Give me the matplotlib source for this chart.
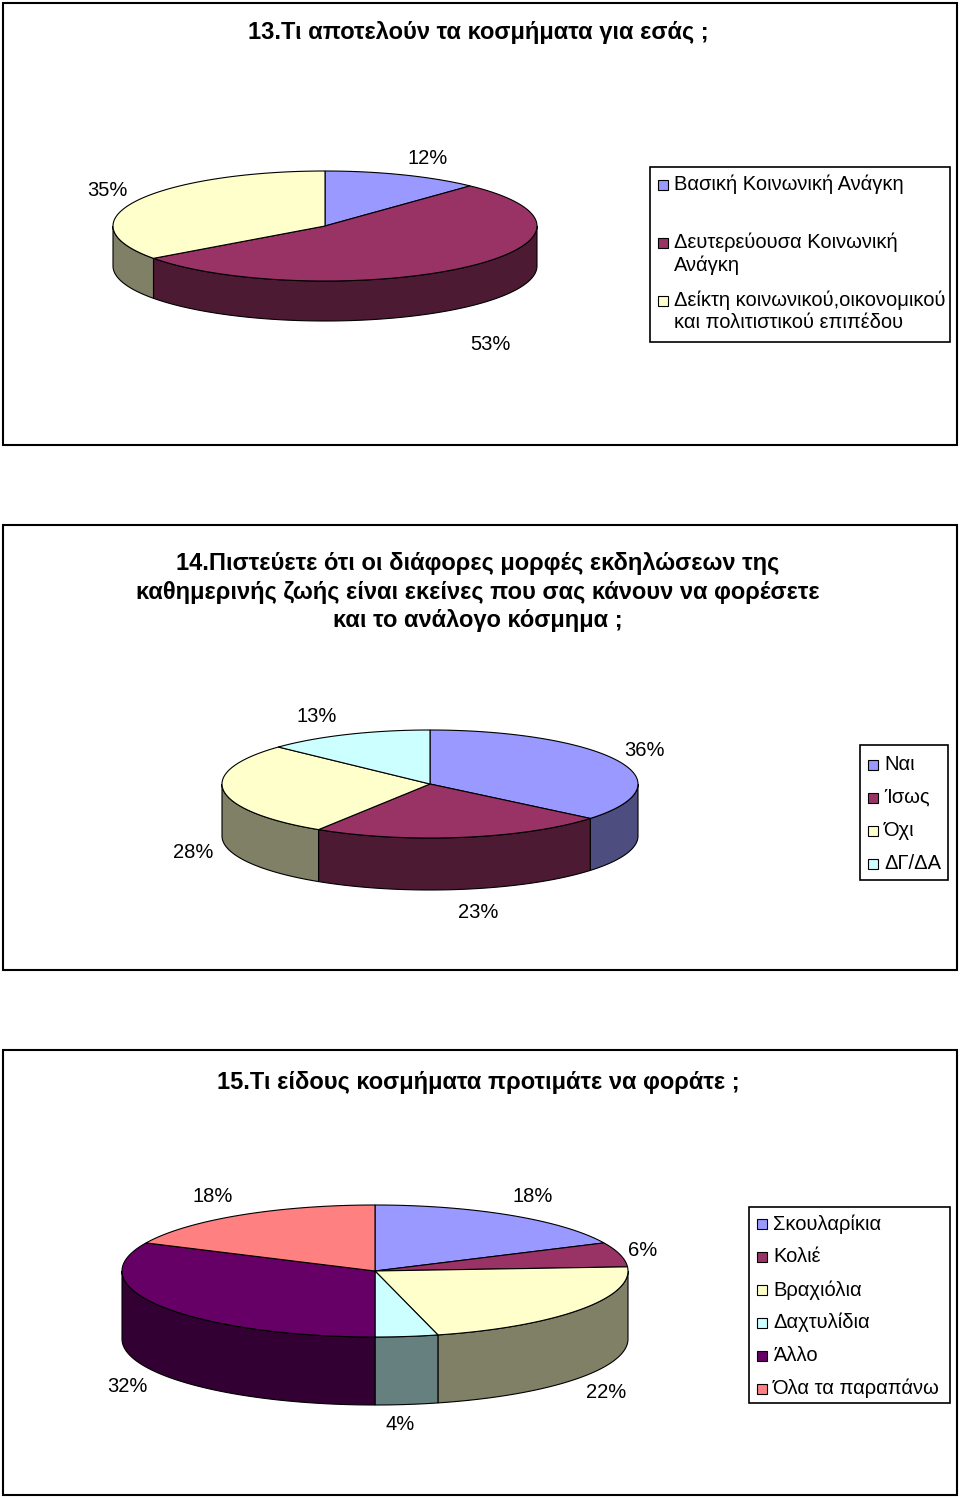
import numpy as np
import matplotlib
matplotlib.use("Agg")
import matplotlib.pyplot as plt
from matplotlib.patches import Polygon, Rectangle
from matplotlib.colors import to_rgb

plt.rcParams["font.family"] = "Liberation Sans"

# Chart 13
q13_labels = ["Βασική Κοινωνική Ανάγκη", "Δευτερεύουσα Κοινωνική\nΑνάγκη",
              "Δείκτη κοινωνικού,οικονομικού\nκαι πολιτιστικού επιπέδου"]
q13_values = [12, 53, 35]
q13_colors = ["#9999FF", "#993366", "#FFFFCC"]

# Chart 14
q14_labels = ["Ναι", "Ίσως", "Όχι", "ΔΓ/ΔΑ"]
q14_values = [36, 23, 28, 13]
q14_colors = ["#9999FF", "#993366", "#FFFFCC", "#CCFFFF"]

# Chart 15
q15_labels = ["Σκουλαρίκια", "Κολιέ", "Βραχιόλια", "Δαχτυλίδια", "Άλλο", "Όλα τα παραπάνω"]
q15_values = [18, 6, 22, 4, 32, 18]
q15_colors = ["#9999FF", "#993366", "#FFFFCC", "#CCFFFF", "#660066", "#FF8080"]

LBL = 14.5
TTL = 17

fig = plt.figure(figsize=(9.6, 14.98), dpi=100)
ax = fig.add_axes([0, 0, 1, 1])
ax.set_xlim(0, 960)
ax.set_ylim(1498, 0)
ax.axis("off")


def pt(cx, cy, rx, ry, th):
    return cx + rx * np.sin(th), cy - ry * np.cos(th)


def pie3d(values, colors, cx, cy, rx, ry, depth):
    fr = np.array(values, float) / sum(values)
    edges = np.concatenate([[0], np.cumsum(fr)]) * 2 * np.pi
    # side walls (front half only)
    for a0, a1, c in zip(edges[:-1], edges[1:], colors):
        s0, s1 = max(a0, np.pi / 2), min(a1, 3 * np.pi / 2)
        if s1 <= s0:
            continue
        th = np.linspace(s0, s1, 80)
        x, y = pt(cx, cy, rx, ry, th)
        poly = np.column_stack([np.concatenate([x, x[::-1]]),
                                np.concatenate([y, y[::-1] + depth])])
        dark = tuple(v * 0.5 for v in to_rgb(c))
        ax.add_patch(Polygon(poly, closed=True, fc=dark, ec="black", lw=0.8))
    for a0, a1, c in zip(edges[:-1], edges[1:], colors):
        th = np.linspace(a0, a1, 120)
        x, y = pt(cx, cy, rx, ry, th)
        poly = np.column_stack([np.concatenate([[cx], x]), np.concatenate([[cy], y])])
        ax.add_patch(Polygon(poly, closed=True, fc=c, ec="black", lw=0.8))


def legend(x0, y0, x1, y1, labels, colors, ys):
    ax.add_patch(Rectangle((x0, y0), x1 - x0, y1 - y0, fc="white", ec="black", lw=1.2))
    for lab, c, y in zip(labels, colors, ys):
        ax.add_patch(Rectangle((x0 + 8, y - 5), 10, 10, fc=c, ec="black", lw=0.8))
        ax.text(x0 + 24, y - 10, lab, fontsize=LBL, va="top", ha="left", linespacing=1.2)


def frame(y0, y1):
    ax.add_patch(Rectangle((3, y0), 954, y1 - y0, fc="white", ec="black", lw=1.5))


# --- Chart 13
frame(3, 445)
ax.text(478, 33, "13.Τι αποτελούν τα κοσμήματα για εσάς ;", fontsize=TTL,
        fontweight="bold", ha="center", va="center")
pie3d(q13_values, q13_colors, 325, 226, 212, 55, 40)
for txt, x, y in zip([f"{v}%" for v in q13_values], [428, 490, 107], [158, 345, 191]):
    ax.text(x, y, txt, fontsize=LBL, ha="center", va="center")
legend(650, 167, 950, 342, q13_labels, q13_colors, [185, 243, 301])

# --- Chart 14
frame(525, 970)
ax.text(478, 592, "14.Πιστεύετε ότι οι διάφορες μορφές εκδηλώσεων της\n"
        "καθημερινής ζωής είναι εκείνες που σας κάνουν να φορέσετε\n"
        "και το ανάλογο κόσμημα ;", fontsize=TTL, fontweight="bold",
        ha="center", va="center", linespacing=1.3)
pie3d(q14_values, q14_colors, 430, 784, 208, 54, 52)
for txt, x, y in zip([f"{v}%" for v in q14_values], [644, 478, 193, 317], [751, 912, 852, 716]):
    ax.text(x, y, txt, fontsize=LBL, ha="center", va="center")
legend(860, 745, 948, 880, q14_labels, q14_colors, [765, 798, 831, 864])

# --- Chart 15
frame(1050, 1495)
ax.text(478, 1083, "15.Τι είδους κοσμήματα προτιμάτε να φοράτε ;", fontsize=TTL,
        fontweight="bold", ha="center", va="center")
pie3d(q15_values, q15_colors, 375, 1271, 253, 66, 68)
for txt, x, y in zip([f"{v}%" for v in q15_values],
                     [533, 643, 606, 400, 127, 213], [1196, 1250, 1393, 1425, 1387, 1196]):
    ax.text(x, y, txt, fontsize=LBL, ha="center", va="center")
legend(749, 1207, 950, 1403, q15_labels, q15_colors, [1224, 1257, 1290, 1323, 1356, 1389])

fig.savefig("out.png", dpi=100)
